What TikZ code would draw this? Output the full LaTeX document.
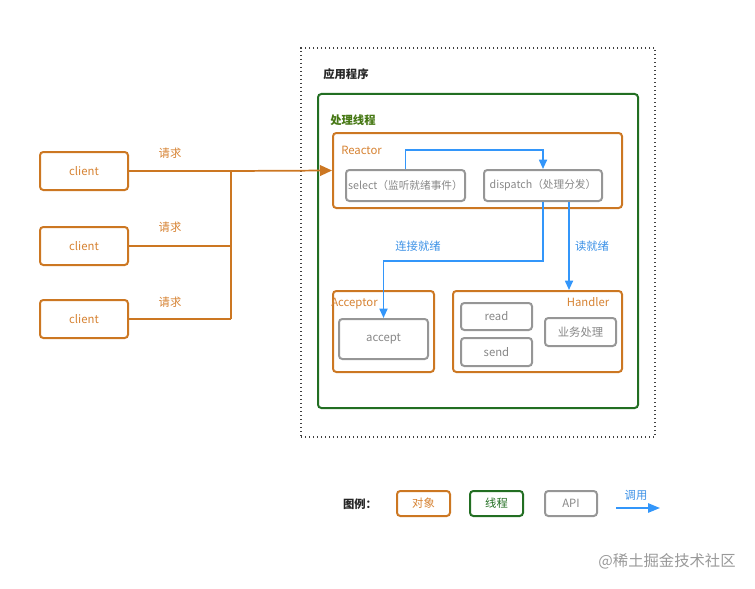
\documentclass[tikz,border=0pt]{standalone}
\usepackage{fontspec}
\setmainfont{Noto Sans CJK SC}
\usetikzlibrary{arrows.meta}
\definecolor{org}{RGB}{204,119,34}
\definecolor{orgtxt}{RGB}{214,130,50}
\definecolor{grn}{RGB}{34,110,34}
\definecolor{grntxt}{RGB}{70,120,20}
\definecolor{gry}{RGB}{150,150,150}
\definecolor{grytxt}{RGB}{135,135,135}
\definecolor{blu}{RGB}{51,150,250}
\definecolor{blutxt}{RGB}{60,145,230}
\tikzset{
  wh/.style 2 args={minimum width=#1*0.75pt, minimum height=#2*0.75pt},
  obj/.style={draw=org, line width=1.5pt, rounded corners=2.5pt, inner sep=0pt, text=orgtxt, font=\fontsize{8.5}{10}\selectfont},
  thr/.style={draw=grn, line width=1.5pt, rounded corners=2.5pt, inner sep=0pt, text=grn, font=\fontsize{8.5}{10}\selectfont},
  api/.style={draw=gry, line width=1.5pt, rounded corners=2.5pt, inner sep=0pt, text=grytxt, font=\fontsize{8.5}{10}\selectfont},
  oline/.style={draw=org, line width=1.3pt},
  bline/.style={draw=blu, line width=1.3pt},
  lbl/.style={inner sep=0pt, font=\fontsize{8.5}{10}\selectfont},
}
\begin{document}
\begin{tikzpicture}[x=0.75pt, y=-0.75pt]
\useasboundingbox (0,0) rectangle (755,588);
% application container
\node[draw=black!75, dotted, line width=1pt, wh={354}{389}, inner sep=0pt] (app) at (478,242.5) {};
\node[lbl, anchor=west, font=\fontsize{8.5}{10}\selectfont\bfseries, text=black!85] (apptitle) at (323,74) {应用程序};
% thread
\node[thr, wh={320}{314}] (thread) at (478,251) {};
\node[lbl, anchor=west, font=\fontsize{8.5}{10}\selectfont\bfseries, text=grntxt] (threadtitle) at (330,120) {处理线程};
% reactor
\node[obj, wh={289}{75}] (reactor) at (477.5,170.5) {};
\node[lbl, anchor=west, text=orgtxt] (reactortitle) at (341,150) {Reactor};
\node[api, wh={119}{31}, font=\fontsize{8}{10}\selectfont] (select) at (405.5,185.5) {select（监听就绪事件）};
\node[api, wh={118}{31}, font=\fontsize{8}{10}\selectfont] (dispatch) at (543,185.5) {dispatch（处理分发）};
% acceptor
\node[obj, wh={101}{81}] (acceptor) at (383.5,331.5) {};
\node[lbl, anchor=west, text=orgtxt] (acceptortitle) at (331,304) {Acceptor};
\node[api, wh={89}{40}] (accept) at (383.5,339) {\raisebox{-1.5pt}{accept}};
% handler
\node[obj, wh={169}{81}] (handler) at (537.5,331.5) {};
\node[lbl, text=orgtxt] (handlertitle) at (588,302) {Handler};
\node[api, wh={71}{27}] (read) at (496.5,316.5) {read};
\node[api, wh={71}{28}] (send) at (496.5,352) {send};
\node[api, wh={71}{28}] (biz) at (580.5,332) {业务处理};
% clients
\node[obj, wh={88}{38}] (c1) at (84,171) {client};
\node[obj, wh={88}{38}] (c2) at (84,246) {client};
\node[obj, wh={88}{38}] (c3) at (84,319) {client};
\coordinate (j1) at (231,171);
\coordinate (j2) at (231,246);
\coordinate (j3) at (231,319);
\draw[oline] (c1.east) -- (j1);
\draw[oline] (c2.east) -- (j2);
\draw[oline] (c3.east) -- (j3);
\draw[oline] (j3) -- (j1);
\draw[oline, -{Triangle[length=9pt, width=8pt]}] (j1) -- (reactor.west);
\node[lbl, text=orgtxt] (q1) at (170,153) {请求};
\node[lbl, text=orgtxt] (q2) at (170,227) {请求};
\node[lbl, text=orgtxt] (q3) at (170,302) {请求};
% blue calls
\draw[bline, -{Triangle[length=7pt, width=6pt]}] (select.north) -- ++(0,-19) -| (dispatch.north);
\draw[bline, -{Triangle[length=7pt, width=6pt]}] (dispatch.south) -- ++(0,59) -| (accept.north);
\draw[bline, -{Triangle[length=7pt, width=6pt]}] ([xshift=26*0.75pt]dispatch.south) -- ([xshift=26*0.75pt]dispatch.south |- handler.north);
\node[lbl, text=blutxt] (l1) at (418,246) {连接就绪};
\node[lbl, text=blutxt] (l2) at (592,246) {读就绪};
% legend
\node[lbl, font=\fontsize{8.5}{10}\selectfont\bfseries, text=black!85] (legend) at (360,504) {图例：};
\node[obj, wh={53}{25}] (lgobj) at (423.5,503.5) {对象};
\node[thr, wh={53}{25}] (lgthr) at (496.5,503.5) {线程};
\node[api, wh={52}{25}] (lgapi) at (571,503.5) {API};
\coordinate (la) at (616,508);
\coordinate (lb) at (660,508);
\draw[bline, -{Triangle[length=9pt, width=7pt]}] (la) -- (lb);
\node[lbl, text=blutxt] (lgcall) at (636,495) {调用};
\node[lbl, font=\fontsize{11.5}{13}\selectfont, text=black!40] (wm) at (667,561) {@稀土掘金技术社区};
\end{tikzpicture}
\end{document}
